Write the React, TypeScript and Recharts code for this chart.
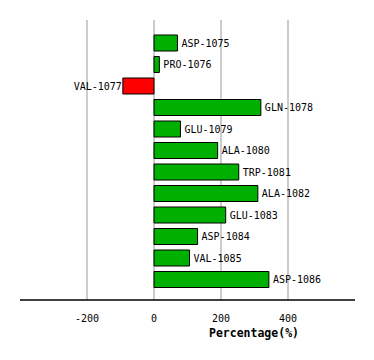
import { BarChart, Bar, XAxis, YAxis, CartesianGrid, Cell, LabelList } from 'recharts'

const residues = [
  'ASP-1075', 'PRO-1076', 'VAL-1077', 'GLN-1078', 'GLU-1079', 'ALA-1080',
  'TRP-1081', 'ALA-1082', 'GLU-1083', 'ASP-1084', 'VAL-1085', 'ASP-1086',
]
const percentages = [70, 16, -93, 319, 79, 190, 253, 310, 214, 130, 106, 343]
const xTicks = [-200, 0, 200, 400]
const xDomain = [-400, 600]

const FONT = '"DejaVu Sans Mono", monospace'

const data = residues.map((name, i) => ({ name, value: percentages[i] }))

function ResidueLabel(props: any) {
  const { x, y, width, height, value, index } = props
  const neg = value < 0
  // for negative bars the width can come through negative
  const left = Math.min(x, x + width)
  const right = Math.max(x, x + width)
  return (
    <text
      x={neg ? left - 1 : right + 4}
      y={y + height / 2}
      dy="0.35em"
      textAnchor={neg ? 'end' : 'start'}
      fontFamily={FONT}
      fontSize={10}
      fill="#000"
    >
      {residues[index]}
    </text>
  )
}

// only the inner ticks get a grid line, not the domain edges
function gridX({ offset }: any) {
  const [lo, hi] = xDomain
  return xTicks.map((t) => offset.left + ((t - lo) / (hi - lo)) * offset.width)
}

export default function App() {
  return (
    <div style={{ position: 'absolute', left: 0, top: 0, width: 374, height: 360, background: '#fff' }}>
      <BarChart
        width={374}
        height={360}
        data={data}
        layout="vertical"
        margin={{ top: 20, right: 19, bottom: 0, left: 20 }}
        barCategoryGap={3}
      >
        <CartesianGrid
          horizontal={false}
          stroke="#999"
          strokeWidth={1}
          verticalCoordinatesGenerator={gridX}
        />
        <XAxis
          type="number"
          domain={xDomain}
          ticks={xTicks}
          interval={0}
          height={60}
          tickLine={false}
          axisLine={{ stroke: '#000', strokeWidth: 1.5 }}
          tick={{ fontFamily: FONT, fontSize: 10, fill: '#000' }}
          tickMargin={9}
          label={() => (
            <text
              x={254}
              y={337}
              textAnchor="middle"
              fontFamily={FONT}
              fontSize={11.5}
              fontWeight="bold"
              fill="#000"
            >
              Percentage(%)
            </text>
          )}
        />
        <YAxis type="category" dataKey="name" hide padding={{ top: 12, bottom: 10 }} />
        <Bar dataKey="value" stroke="#000" strokeWidth={1} isAnimationActive={false}>
          {data.map((d, i) => (
            <Cell key={i} fill={d.value < 0 ? '#ff0000' : '#00b000'} />
          ))}
          <LabelList dataKey="value" content={ResidueLabel} />
        </Bar>
      </BarChart>
    </div>
  )
}
